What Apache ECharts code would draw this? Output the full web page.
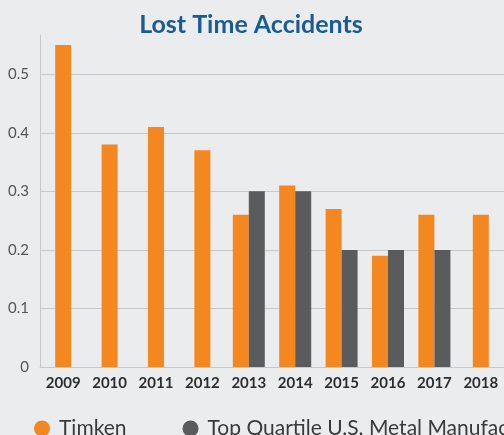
<!DOCTYPE html>
<html>
<head>
<meta charset="utf-8">
<script src="https://cdn.jsdelivr.net/npm/echarts@6/dist/echarts.min.js"></script>
<style>
  html, body { margin: 0; padding: 0; background: #ebecee; }
  #main { width: 504px; height: 435px; }
</style>
</head>
<body>
<div id="main"></div>
<script>
var years = ['2009', '2010', '2011', '2012', '2013', '2014', '2015', '2016', '2017', '2018'];
var timken = [0.55, 0.38, 0.41, 0.37, 0.26, 0.31, 0.27, 0.19, 0.26, 0.26];
var topQuartile = [null, null, null, null, 0.30, 0.30, 0.20, 0.20, 0.20, null];
var yTicks = [0, 0.1, 0.2, 0.3, 0.4, 0.5];

var orange = '#f58720', grey = '#5a5b5d';

// years with both series -> paired bars, years with only Timken -> centred bar (own axis)
var timkenPaired = timken.map(function (v, i) { return topQuartile[i] == null ? null : v; });
var timkenAlone = timken.map(function (v, i) { return topQuartile[i] == null ? v : null; });

var myChart = echarts.init(document.getElementById('main'));
var option = {
  backgroundColor: '#ebecee',
  animation: false,
  title: {
    text: 'Lost Time Accidents',
    left: 246,
    textAlign: 'center',
    top: 7,
    textStyle: { fontFamily: 'Lato', fontWeight: 'bold', fontSize: 25, color: '#1a5b93' }
  },
  legend: {
    data: ['Timken', 'Top Quartile U.S. Metal Manufacturers'],
    left: 29,
    top: 413,
    width: 1200,
    icon: 'circle',
    itemWidth: 16,
    itemHeight: 16,
    itemGap: 56,
    textStyle: { fontFamily: 'Lato', fontSize: 21, color: '#3a3a3a', padding: [0, 0, 0, 4] }
  },
  grid: { left: 40, top: 35, width: 466, bottom: 68, containLabel: false },
  xAxis: [{
    type: 'category',
    data: years,
    axisLine: { lineStyle: { color: '#c8c8c8' } },
    axisTick: { show: false },
    axisLabel: { fontFamily: 'Lato', fontWeight: 'bold', fontSize: 15, color: '#2e2e2e', margin: 9, interval: 0 }
  }, {
    type: 'category',
    data: years,
    show: false
  }],
  yAxis: {
    type: 'value',
    min: yTicks[0],
    max: 0.567,
    interval: 0.1,
    axisLine: { show: true, lineStyle: { color: '#c8c8c8' } },
    axisTick: { show: false },
    axisLabel: {
      fontFamily: 'Lato', fontSize: 15, color: '#555', margin: 11, showMaxLabel: false,
      formatter: function (v) { return v === 0 ? '0' : v.toFixed(1); }
    },
    splitLine: { showMaxLine: false, lineStyle: { color: '#c8c8c8' } }
  },
  series: [{
    name: 'Timken',
    type: 'bar',
    xAxisIndex: 0,
    data: timkenPaired,
    barWidth: 16,
    barGap: 0,
    itemStyle: { color: orange }
  }, {
    name: 'Top Quartile U.S. Metal Manufacturers',
    type: 'bar',
    xAxisIndex: 0,
    data: topQuartile,
    barWidth: 16,
    barGap: 0,
    itemStyle: { color: grey }
  }, {
    name: 'Timken',
    type: 'bar',
    xAxisIndex: 1,
    data: timkenAlone,
    barWidth: 16,
    itemStyle: { color: orange }
  }]
};
myChart.setOption(option);
</script>
</body>
</html>
